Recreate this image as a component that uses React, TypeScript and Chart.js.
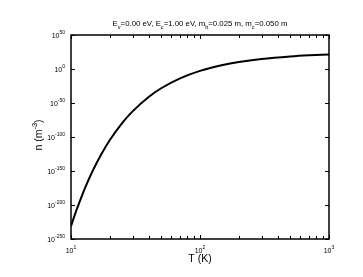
import React, { useEffect, useRef } from "react";
import { Chart, registerables } from "chart.js";

Chart.register(...registerables);

// Temperature (K) and carrier density exponent log10(n / m^-3)
const temperatureK = [10, 11, 12, 13, 14, 15, 17, 20, 25, 30, 40, 50, 70, 100, 150, 200, 300, 500, 700, 1000];
const log10Density = [-231, -208, -189, -172.7, -158.8, -146.7, -126.9, -104.5, -79.2, -62.3, -41.1, -28.3, -13.7, -2.7, 6.0, 10.4, 14.8, 18.5, 20.2, 21.5];

const xTickValues = [10, 20, 30, 40, 50, 60, 70, 80, 90, 100, 200, 300, 400, 500, 600, 700, 800, 900, 1000];
const xLabelExps = [1, 2, 3];
const yLabelExps = [50, 0, -50, -100, -150, -200, -250];

const FONT = "'Liberation Sans', Arial, Helvetica, sans-serif";

const titleParts: [string, boolean][] = [
  ["E", false], ["v", true], ["=0.00 eV, E", false], ["c", true],
  ["=1.00 eV, m", false], ["h", true], ["=0.025 m, m", false], ["c", true], ["=0.050 m", false],
];

function drawPow(ctx: CanvasRenderingContext2D, x: number, y: number, align: "right" | "center", exp: string, bs: number, es: number) {
  ctx.font = `${bs}px ${FONT}`;
  const bw = ctx.measureText("10").width;
  ctx.font = `${es}px ${FONT}`;
  const ew = ctx.measureText(exp).width;
  const total = bw + ew;
  const x0 = align === "right" ? x - total : x - total / 2;
  ctx.textAlign = "left";
  ctx.textBaseline = "alphabetic";
  ctx.font = `${bs}px ${FONT}`;
  ctx.fillText("10", x0, y);
  ctx.font = `${es}px ${FONT}`;
  ctx.fillText(exp, x0 + bw, y - bs * 0.55);
}

const decorPlugin = {
  id: "decor",
  afterDraw(chart: any) {
    const { ctx, chartArea: a, scales } = chart;
    const xs = scales.x, ys = scales.y;
    ctx.save();
    ctx.strokeStyle = "#000";
    ctx.fillStyle = "#000";
    ctx.lineWidth = 1;
    const seg = (x1: number, y1: number, x2: number, y2: number) => {
      ctx.beginPath(); ctx.moveTo(x1, y1); ctx.lineTo(x2, y2); ctx.stroke();
    };
    xs.ticks.forEach((t: any) => {
      const px = Math.round(xs.getPixelForValue(t.value)) + 0.5;
      const major = Math.abs(Math.log10(t.value) - Math.round(Math.log10(t.value))) < 1e-9;
      const len = major ? 4 : 3;
      seg(px, a.bottom, px, a.bottom - len);
      seg(px, a.top, px, a.top + len);
    });
    ys.ticks.forEach((t: any) => {
      const py = Math.round(ys.getPixelForValue(t.value)) + 0.5;
      seg(a.left, py, a.left + 4, py);
      seg(a.right, py, a.right - 4, py);
    });
    ctx.lineWidth = 1.5;
    ctx.strokeRect(a.left, a.top, a.right - a.left, a.bottom - a.top);

    // y tick labels
    yLabelExps.forEach((e) => {
      const py = ys.getPixelForValue(Math.pow(10, e));
      drawPow(ctx, a.left - 6, py + 2.5, "right", String(e), 7, 5);
    });
    // x tick labels
    xLabelExps.forEach((e) => {
      const px = xs.getPixelForValue(Math.pow(10, e));
      drawPow(ctx, px, a.bottom + 14, "center", String(e), 7, 5);
    });

    // x title
    ctx.font = `10.5px ${FONT}`;
    ctx.textAlign = "center";
    ctx.textBaseline = "alphabetic";
    ctx.fillText("T (K)", (a.left + a.right) / 2, a.bottom + 23);

    // y title (rotated)
    ctx.save();
    ctx.translate(42, (a.top + a.bottom) / 2 - 2);
    ctx.rotate(-Math.PI / 2);
    ctx.font = `10.5px ${FONT}`;
    const w1 = ctx.measureText("n (m").width;
    const w3 = ctx.measureText(")").width;
    ctx.font = `7.5px ${FONT}`;
    const w2 = ctx.measureText("-3").width;
    const tot = w1 + w2 + w3;
    const x0 = -tot / 2;
    ctx.textAlign = "left";
    ctx.font = `10.5px ${FONT}`;
    ctx.fillText("n (m", x0, 0);
    ctx.font = `7.5px ${FONT}`;
    ctx.fillText("-3", x0 + w1, -5);
    ctx.font = `10.5px ${FONT}`;
    ctx.fillText(")", x0 + w1 + w2, 0);
    ctx.restore();

    // chart title with subscripts
    const ns = 7.8, ss = 5.6;
    let total = 0;
    titleParts.forEach(([s, sub]) => {
      ctx.font = `${sub ? ss : ns}px ${FONT}`;
      total += ctx.measureText(s).width;
    });
    let tx = (a.left + a.right) / 2 - total / 2;
    const ty = a.top - 9;
    ctx.textAlign = "left";
    titleParts.forEach(([s, sub]) => {
      ctx.font = `${sub ? ss : ns}px ${FONT}`;
      ctx.fillText(s, tx, sub ? ty + 2.5 : ty);
      tx += ctx.measureText(s).width;
    });
    ctx.restore();
  },
};

export default function App() {
  const ref = useRef<HTMLCanvasElement>(null);
  useEffect(() => {
    document.body.style.margin = "0";
    const canvas = ref.current!;
    const chart = new Chart(canvas, {
      type: "line",
      data: {
        datasets: [
          {
            data: temperatureK.map((t, i) => ({ x: t, y: Math.pow(10, log10Density[i]) })),
            borderColor: "#000",
            borderWidth: 2,
            pointRadius: 0,
            cubicInterpolationMode: "monotone",
            fill: false,
          },
        ],
      },
      options: {
        responsive: false,
        animation: false,
        devicePixelRatio: 1,
        layout: { padding: { top: 35, right: 34, left: 0, bottom: 0 } },
        plugins: { legend: { display: false }, title: { display: false }, tooltip: { enabled: false } },
        scales: {
          x: {
            type: "logarithmic",
            min: 10,
            max: 1000,
            grid: { display: false },
            border: { display: false },
            ticks: { display: false },
            afterBuildTicks: (s: any) => { s.ticks = xTickValues.map((v) => ({ value: v })); },
            afterFit: (s: any) => { s.height = 38; },
          },
          y: {
            type: "logarithmic",
            min: 1e-250,
            max: 1e50,
            grid: { display: false },
            border: { display: false },
            ticks: { display: false },
            afterBuildTicks: (s: any) => { s.ticks = yLabelExps.map((e) => ({ value: Math.pow(10, e) })); },
            afterFit: (s: any) => { s.width = 71; },
          },
        },
      } as any,
      plugins: [decorPlugin],
    });
    return () => chart.destroy();
  }, []);
  return (
    <div style={{ position: "relative", width: 363, height: 277, background: "#fff" }}>
      <canvas ref={ref} width={363} height={277} style={{ display: "block" }} />
    </div>
  );
}
